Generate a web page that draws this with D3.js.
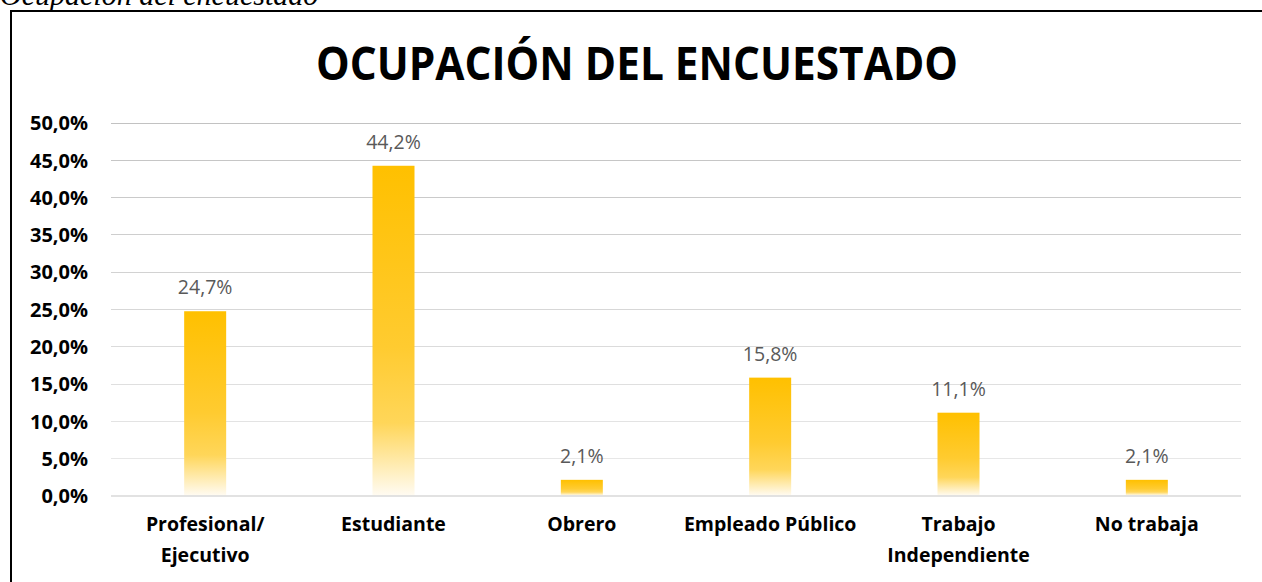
<!DOCTYPE html>
<html>
<head>
<meta charset="utf-8">
<script src="https://cdn.jsdelivr.net/npm/d3@7"></script>
<style>
  html, body { margin: 0; padding: 0; background: #fff; overflow: hidden; }
  svg { display: block; }
</style>
</head>
<body>
<svg width="1262" height="582"></svg>
<script>
let categories = [["Profesional/", "Ejecutivo"], ["Estudiante"], ["Obrero"], ["Empleado Público"], ["Trabajo", "Independiente"], ["No trabaja"]];
let values = [0.247, 0.442, 0.021, 0.158, 0.111, 0.021];
let yTicks = [0, 0.05, 0.10, 0.15, 0.20, 0.25, 0.30, 0.35, 0.40, 0.45, 0.50];

let svg = d3.select("svg"),
    width = +svg.attr("width"),
    height = +svg.attr("height");

let fmt = v => d3.format(".1f")(v * 100).replace(".", ",") + "%";

// gradient for the bars
let defs = svg.append("defs");
let grad = defs.append("linearGradient")
    .attr("id", "barGrad")
    .attr("x1", 0).attr("y1", 0).attr("x2", 0).attr("y2", 1);
grad.append("stop").attr("offset", "0%").attr("stop-color", "#FFC000");
grad.append("stop").attr("offset", "55%").attr("stop-color", "#FFCB30");
grad.append("stop").attr("offset", "78%").attr("stop-color", "#FFD659");
grad.append("stop").attr("offset", "100%").attr("stop-color", "#FFFBF2");

// caption above the box
svg.append("text")
    .attr("x", 0)
    .attr("y", 5)
    .text("Ocupación del encuestado")
    .style("font-family", "'Liberation Serif', 'Times New Roman', serif")
    .style("font-style", "italic")
    .style("font-size", "30px")
    .attr("fill", "#000");

// chart box (only top and left edges fall inside the picture)
svg.append("path")
    .attr("d", "M11," + height + "V11H" + width)
    .attr("fill", "none")
    .attr("stroke", "#000")
    .attr("stroke-width", 2);

svg.append("text")
    .attr("x", 637)
    .attr("y", 80)
    .attr("text-anchor", "middle")
    .attr("textLength", 642)
    .attr("lengthAdjust", "spacingAndGlyphs")
    .text("OCUPACIÓN DEL ENCUESTADO")
    .style("font-family", "'Open Sans', sans-serif")
    .style("font-weight", "bold")
    .style("font-size", "46px")
    .attr("fill", "#000");

let x = d3.scaleBand()
    .domain(d3.range(categories.length))
    .range([111, 1241])
    .paddingInner(0.777)
    .paddingOuter(0.3885);

let y = d3.scaleLinear()
    .domain([0, 0.5])
    .range([495.5, 122.5]);

let gridColor = d3.scaleLinear().domain([0, 0.5]).range(["#ebebeb", "#c2c2c2"]);

// gridlines
svg.append("g")
    .selectAll("line")
    .data(yTicks.filter(d => d > 0))
    .enter()
    .append("line")
    .attr("x1", 111).attr("x2", 1241)
    .attr("y1", d => Math.round(y(d)) + 0.5)
    .attr("y2", d => Math.round(y(d)) + 0.5)
    .attr("stroke", d => gridColor(d))
    .attr("stroke-width", 1);

// y axis labels
let yAxis = d3.axisLeft(y).tickValues(yTicks).tickFormat(fmt).tickSize(0).tickPadding(0);
let yg = svg.append("g").attr("transform", "translate(88,0)").call(yAxis);
yg.select(".domain").remove();
yg.selectAll("text")
    .attr("dy", "0.36em")
    .style("font-family", "'Open Sans', sans-serif")
    .style("font-weight", "bold")
    .style("font-size", "20px")
    .attr("fill", "#000");

// bars
svg.append("g")
    .selectAll("rect")
    .data(values)
    .enter()
    .append("rect")
    .attr("x", (d, i) => x(i))
    .attr("width", x.bandwidth())
    .attr("y", d => y(d))
    .attr("height", d => y(0) - y(d))
    .attr("fill", "url(#barGrad)");

// baseline axis
svg.append("line")
    .attr("x1", 111).attr("x2", 1241)
    .attr("y1", y(0) + 0.5).attr("y2", y(0) + 0.5)
    .attr("stroke", "#d9d9d9")
    .attr("stroke-width", 1.5);

// value labels
svg.append("g")
    .selectAll("text")
    .data(values)
    .enter()
    .append("text")
    .attr("x", (d, i) => x(i) + x.bandwidth() / 2)
    .attr("y", d => y(d) - 17)
    .attr("text-anchor", "middle")
    .text(fmt)
    .style("font-family", "'Open Sans', sans-serif")
    .style("font-size", "19.5px")
    .attr("fill", "#595959");

// category labels
let catG = svg.append("g")
    .selectAll("text")
    .data(categories)
    .enter()
    .append("text")
    .attr("x", (d, i) => x(i) + x.bandwidth() / 2)
    .attr("y", 531)
    .attr("text-anchor", "middle")
    .style("font-family", "'Open Sans', sans-serif")
    .style("font-weight", "bold")
    .style("font-size", "19.5px")
    .attr("fill", "#000");

catG.selectAll("tspan")
    .data(d => d)
    .enter()
    .append("tspan")
    .attr("x", function () { return d3.select(this.parentNode).attr("x"); })
    .attr("dy", (d, i) => i === 0 ? 0 : 31)
    .text(d => d);
</script>
</body>
</html>
